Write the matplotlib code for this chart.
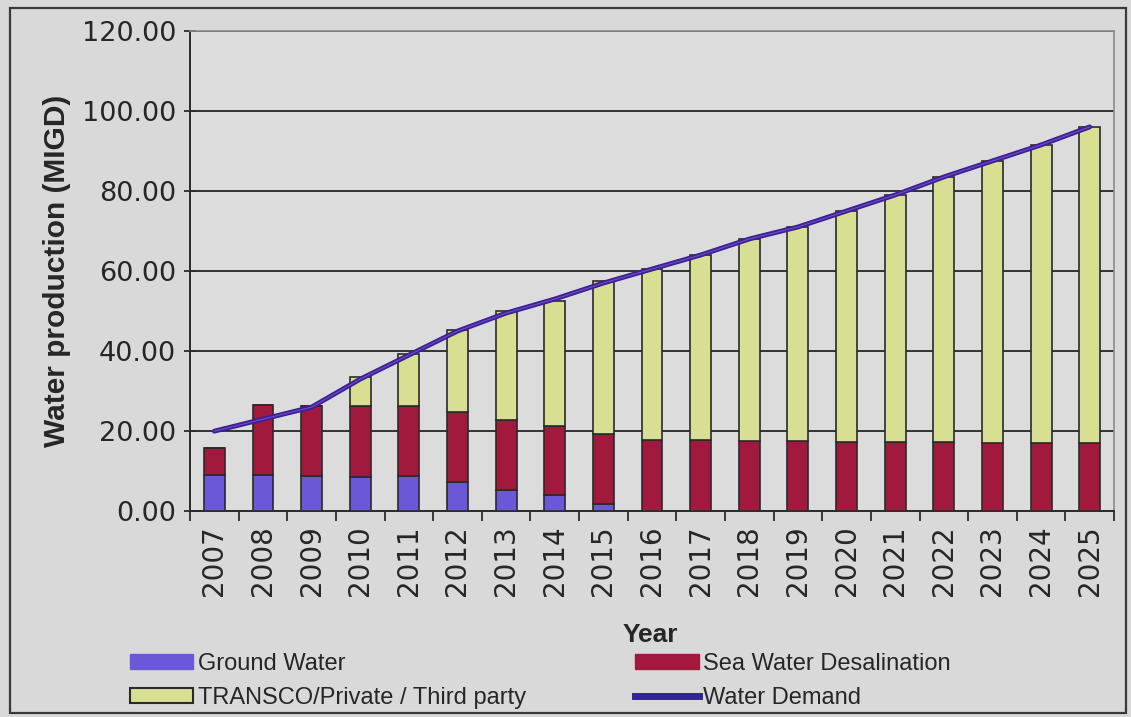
import numpy as np
import matplotlib.pyplot as plt
from matplotlib.patches import Rectangle
from matplotlib.lines import Line2D

years = [str(y) for y in range(2007, 2026)]
ground = [9.0, 9.0, 8.8, 8.6, 8.8, 7.3, 5.3, 4.0, 1.8, 0, 0, 0, 0, 0, 0, 0, 0, 0, 0]
desal = [6.7, 17.5, 17.4, 17.8, 17.5, 17.4, 17.4, 17.2, 17.6, 17.8,
         17.7, 17.6, 17.5, 17.4, 17.3, 17.2, 17.1, 17.0, 17.0]
transco = [0, 0, 0, 7.1, 13.0, 20.5, 27.3, 31.3, 38.1, 42.7,
           46.3, 50.4, 53.5, 57.6, 61.7, 66.3, 70.4, 74.5, 79.0]
demand = [20, 23, 26, 33, 39, 45, 49.5, 53, 57, 60.5,
          64, 68, 71, 75, 79, 83.5, 87.5, 91.5, 96]

bg = '#d9d9d9'
c_gw = '#6a58d6'
c_sea = '#a11a3e'
c_tr = '#d9df92'
c_dem = '#33249a'
edge = '#2a2a2a'
txt = '#262626'

fig = plt.figure(figsize=(11.31, 7.17), dpi=100, facecolor=bg)
ax = fig.add_axes([0.168, 0.287, 0.817, 0.670], facecolor='#dcdcdc')

x = np.arange(len(years))
ground = np.array(ground)
desal = np.array(desal)
transco = np.array(transco)
w = 0.43
ax.bar(x, ground, w, color=c_gw, edgecolor=edge, linewidth=1.2, zorder=3)
ax.bar(x, desal, w, bottom=ground, color=c_sea, edgecolor=edge, linewidth=1.2, zorder=3)
ax.bar(x, transco, w, bottom=ground + desal, color=c_tr, edgecolor=edge, linewidth=1.2, zorder=3)
ax.plot(x, demand, color=c_dem, linewidth=3.5, zorder=4, solid_capstyle='round')
ax.plot(x, demand, color='#b24fc8', linewidth=0.8, alpha=0.7, zorder=5)

ax.set_xlim(-0.5, len(years) - 0.5)
ax.set_ylim(0, 120)
ax.set_yticks(np.arange(0, 121, 20))
ax.set_yticklabels(['%.2f' % v for v in np.arange(0, 121, 20)],
                   fontsize=19.5, color=txt, family='DejaVu Sans')
ax.yaxis.grid(True, color='#333333', linewidth=1.4, zorder=1)
ax.set_axisbelow(True)

ax.set_xticks(x)
ax.set_xticklabels(years, rotation=90, fontsize=20, color=txt, family='DejaVu Sans')
ax.set_xticks(np.arange(-0.5, len(years)), minor=True)
ax.tick_params(axis='x', which='major', length=0, pad=10)
ax.tick_params(axis='x', which='minor', length=7, width=1.3, color=edge, direction='out')
ax.tick_params(axis='y', length=8, width=1.3, color=edge, direction='inout', pad=6)

for s in ['left', 'bottom']:
    ax.spines[s].set_color(edge)
    ax.spines[s].set_linewidth(1.4)
for s in ['top', 'right']:
    ax.spines[s].set_color('#8a8a8a')
    ax.spines[s].set_linewidth(1.2)

ax.set_ylabel('Water production (MIGD)', fontsize=21.5, fontweight='bold',
              color=txt, family='Liberation Sans', labelpad=8)
fig.text(0.575, 0.115, 'Year', fontsize=19, fontweight='bold', color=txt,
         family='Liberation Sans', ha='center', va='center')

handles = [
    Rectangle((0, 0), 1, 1, facecolor=c_gw, edgecolor=c_gw),
    Rectangle((0, 0), 1, 1, facecolor=c_tr, edgecolor=edge, linewidth=1.5),
    Rectangle((0, 0), 1, 1, facecolor=c_sea, edgecolor=c_sea),
    Line2D([0], [0], color=c_dem, linewidth=5),
]
labels = ['Ground Water', 'TRANSCO/Private / Third party',
          'Sea Water Desalination', 'Water Demand']
leg = fig.legend(handles, labels, ncol=2, loc='lower left',
                 bbox_to_anchor=(0.1, -0.012), frameon=False,
                 prop={'family': 'Liberation Sans', 'size': 17},
                 handlelength=2.7, handleheight=0.6, handletextpad=0.2,
                 columnspacing=4.6, labelspacing=0.5, borderaxespad=0.3)
for t in leg.get_texts():
    t.set_color(txt)

fig.patches.append(Rectangle((0.009, 0.006), 0.987, 0.983, transform=fig.transFigure,
                             fill=False, edgecolor='#3a3a3a', linewidth=1.6))

fig.savefig('out.png', dpi=100, facecolor=bg)
